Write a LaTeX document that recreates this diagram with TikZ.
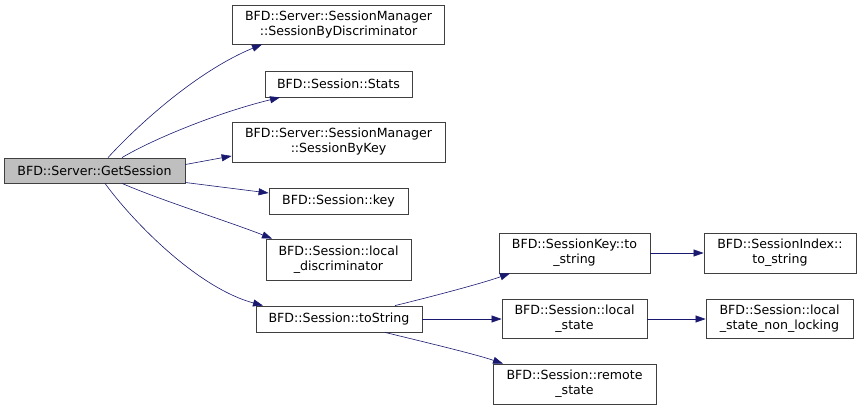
\documentclass[tikz,border=0pt]{standalone}
\usepackage{fontspec}
\setmainfont{DejaVu Sans}
\usetikzlibrary{arrows.meta}
\definecolor{edgeblue}{RGB}{25,25,112}
\definecolor{boxline}{RGB}{64,64,64}
\tikzset{
    call graph/.style = {x=1pt, y=1pt, >={Triangle[length=10pt,width=7pt]}},
    fn/.style         = {draw=boxline, thick, fill=white, align=center,
                         inner sep=0pt, font=\fontsize{12.6}{15}\selectfont},
    root/.style       = {fn, fill=black!25},
    call/.style       = {->, edgeblue, semithick}
}

\begin{document}
\begin{tikzpicture}[call graph]
\useasboundingbox (0,0) rectangle (861,-409);

% The caller.
\node[root, minimum width=181pt, minimum height=25pt] (getsession)
    at (94.5,-170.5) {BFD::Server::GetSession};

% Direct callees.
\node[fn, minimum width=212pt, minimum height=39pt] (bydisc)
    at (338.5,-24.5) {BFD::Server::SessionManager\\::SessionByDiscriminator};
\node[fn, minimum width=147pt, minimum height=26pt] (stats)
    at (338.5,-84) {BFD::Session::Stats};
\node[fn, minimum width=213pt, minimum height=40pt] (bykey)
    at (338.5,-142) {BFD::Server::SessionManager\\::SessionByKey};
\node[fn, minimum width=139pt, minimum height=26pt] (key)
    at (338.5,-201) {BFD::Session::key};
\node[fn, minimum width=145pt, minimum height=41pt] (localdisc)
    at (338.5,-259.5) {BFD::Session::local\\\_discriminator};
\node[fn, minimum width=166pt, minimum height=26pt] (tostring)
    at (339,-319) {BFD::Session::toString};

% Callees of toString and their own callees.
\node[fn, minimum width=151pt, minimum height=40pt] (keytostring)
    at (574.5,-253) {BFD::SessionKey::to\\\_string};
\node[fn, minimum width=152pt, minimum height=40pt] (indextostring)
    at (780,-253) {BFD::SessionIndex::\\to\_string};
\node[fn, minimum width=145pt, minimum height=39pt] (localstate)
    at (574.5,-319) {BFD::Session::local\\\_state};
\node[fn, minimum width=147pt, minimum height=39pt] (nonlocking)
    at (779.5,-319) {BFD::Session::local\\\_state\_non\_locking};
\node[fn, minimum width=163pt, minimum height=40pt] (remotestate)
    at (574.5,-384) {BFD::Session::remote\\\_state};

% Calls made by GetSession.
\draw[call] ([xshift=13.5pt]getsession.north)
    .. controls (135,-128) and (195,-72) .. ([xshift=-76.5pt]bydisc.south);
\draw[call] ([xshift=27.5pt]getsession.north)
    .. controls (155,-138) and (220,-112) .. ([xshift=-58.5pt]stats.south);
\draw[call] ([yshift=6pt]getsession.east) -- ([yshift=-14pt]bykey.west);
\draw[call] ([yshift=-12pt]getsession.east) -- ([yshift=8pt]key.west);
\draw[call] ([xshift=27.5pt]getsession.south)
    .. controls (160,-200) and (230,-222) .. ([xshift=-66.5pt]localdisc.north);
\draw[call] ([xshift=10.5pt]getsession.south)
    .. controls (130,-218) and (195,-287) .. ([xshift=-76pt]tostring.north);

% Calls made further down.
\draw[call] ([xshift=56pt]tostring.north)
    .. controls (430,-297) and (480,-284) .. ([xshift=-64.5pt]keytostring.south);
\draw[call] (tostring.east) -- (localstate.west);
\draw[call] ([xshift=46pt]tostring.south)
    .. controls (420,-341) and (475,-354) .. ([xshift=-71.5pt]remotestate.north);
\draw[call] (keytostring.east) -- (indextostring.west);
\draw[call] (localstate.east) -- (nonlocking.west);

\end{tikzpicture}
\end{document}
